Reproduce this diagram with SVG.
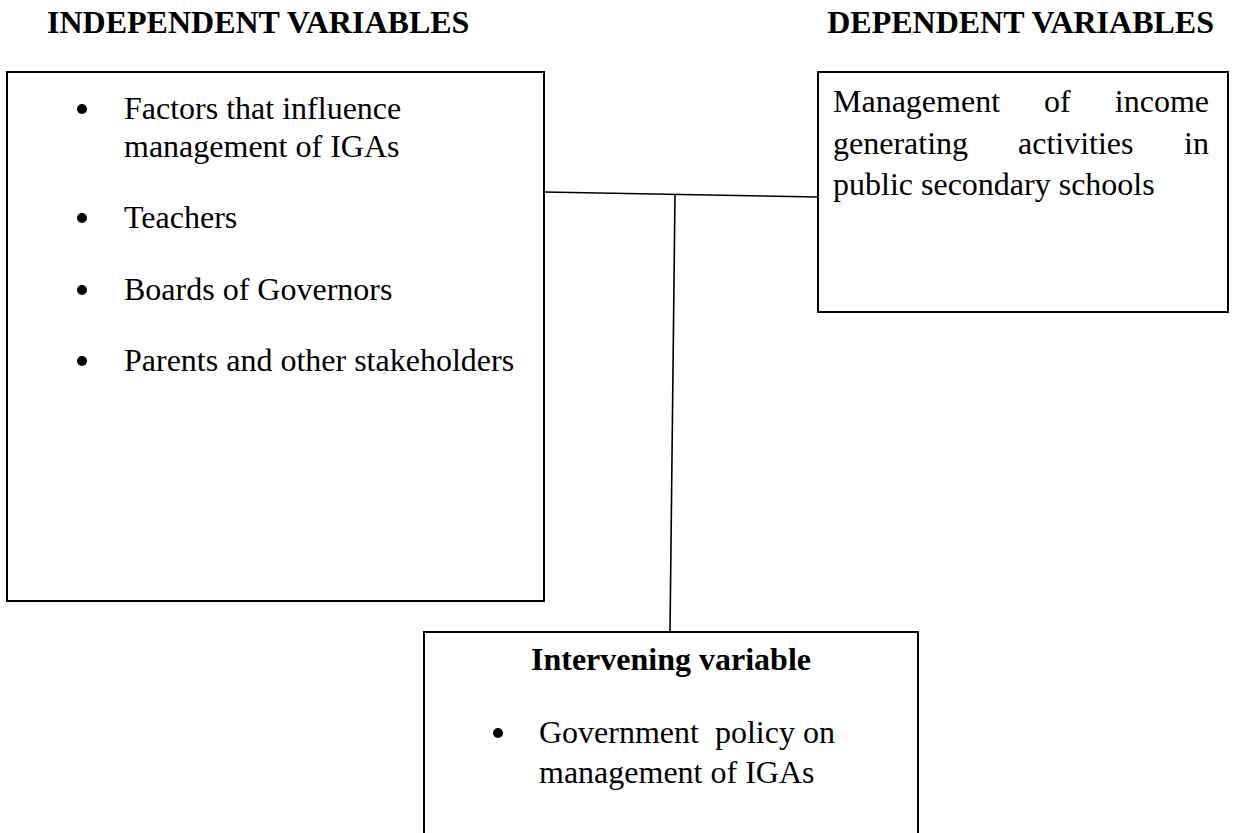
<svg xmlns="http://www.w3.org/2000/svg" width="1235" height="833" viewBox="0 0 1235 833">
  <style>
    .t { font-family: "Liberation Serif", "Times New Roman", serif; font-size: 32px; fill: #000; }
    .b { font-weight: bold; }
    .box { fill: #fff; stroke: #000; stroke-width: 2; }
    .con { fill: none; stroke: #000; stroke-width: 1.6; }
    .dot { fill: #000; }
  </style>
  <rect x="0" y="0" width="1235" height="833" fill="#fff"/>
  <g id="headings">
    <text class="t b" x="47" y="33">INDEPENDENT VARIABLES</text>
    <text class="t b" x="1214" y="33" text-anchor="end">DEPENDENT VARIABLES</text>
  </g>
  <g id="connectors">
    <line class="con" x1="544" y1="192" x2="818" y2="197"/>
    <line class="con" x1="675" y1="194" x2="670" y2="632"/>
  </g>
  <g id="independent">
    <rect class="box" x="7" y="72" width="537" height="529"/>
    <circle class="dot" cx="82" cy="109" r="5"/>
    <text class="t" x="124" y="119">Factors that influence</text>
    <text class="t" x="124" y="157">management of IGAs</text>
    <circle class="dot" cx="82" cy="218" r="5"/>
    <text class="t" x="124" y="228">Teachers</text>
    <circle class="dot" cx="82" cy="290" r="5"/>
    <text class="t" x="124" y="300">Boards of Governors</text>
    <circle class="dot" cx="82" cy="361" r="5"/>
    <text class="t" x="124" y="371">Parents and other stakeholders</text>
  </g>
  <g id="dependent">
    <rect class="box" x="818" y="72" width="410" height="240"/>
    <text class="t" x="833" y="112">Management</text>
    <text class="t" x="1044" y="112">of</text>
    <text class="t" x="1209" y="112" text-anchor="end">income</text>
    <text class="t" x="833" y="154">generating</text>
    <text class="t" x="1018" y="154">activities</text>
    <text class="t" x="1209" y="154" text-anchor="end">in</text>
    <text class="t" x="833" y="195">public secondary schools</text>
  </g>
  <g id="intervening">
    <rect class="box" x="424" y="632" width="494" height="230"/>
    <text class="t b" x="671" y="670" text-anchor="middle">Intervening variable</text>
    <circle class="dot" cx="498" cy="733" r="5"/>
    <text class="t" x="539" y="743" xml:space="preserve">Government  policy on</text>
    <text class="t" x="539" y="783">management of IGAs</text>
  </g>
</svg>
